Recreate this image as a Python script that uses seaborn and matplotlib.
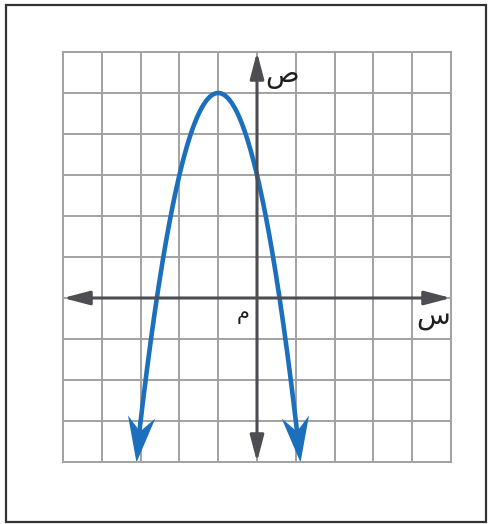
import numpy as np
import pandas as pd
import seaborn as sns
import matplotlib
matplotlib.use('Agg')
import matplotlib.pyplot as plt
from matplotlib.patches import Rectangle
from matplotlib.path import Path
from matplotlib.markers import MarkerStyle

# grid extent (units)
x_range = [-5, 5]
y_range = [-4, 6]

# parabola y = a*(x - h)^2 + k
a_coef = -2
vertex_x = -1
vertex_y = 5
curve_ends = [-3.12, 1.12]

# labels (Arabic)
y_label = "ص"
x_label = "س"
origin_label = "م"

blue = "#1b6fbd"
axis_gray = "#4d4d52"


def parabola(x):
    return a_coef * (x - vertex_x) ** 2 + vertex_y


sns.set_style("white")
plt.rcParams['font.family'] = ['DejaVu Sans']

fig = plt.figure(figsize=(4.88, 5.24), dpi=100)
ax = fig.add_axes([63 / 488, 62 / 524, 388 / 488, 410 / 524])

# grid
ax.set_xlim(x_range)
ax.set_ylim(y_range)
ax.set_xticks(np.arange(x_range[0], x_range[1] + 1))
ax.set_yticks(np.arange(y_range[0], y_range[1] + 1))
ax.grid(True, color="#a2a2a2", lw=1.4)
ax.tick_params(length=0, labelbottom=False, labelleft=False)
for s in ax.spines.values():
    s.set_color("#a2a2a2")
    s.set_linewidth(1.4)

# axes with arrows
for xy, xytext in [((x_range[1], 0), (x_range[0], 0)), ((0, y_range[1]), (0, y_range[0]))]:
    ax.annotate("", xy=xy, xytext=xytext,
                arrowprops=dict(arrowstyle="<|-|>,head_length=1.6,head_width=0.42",
                                mutation_scale=10, color=axis_gray, lw=2.2,
                                shrinkA=0, shrinkB=0))

# the parabola
xs = np.linspace(curve_ends[0], curve_ends[1], 300)
df = pd.DataFrame({"x": xs, "y": parabola(xs)})
sns.lineplot(data=df[(df.y > -3.5)], x="x", y="y", color=blue, lw=3.3,
             sort=False, ax=ax)

# notched arrowheads at the curve ends (tip at origin, pointing down)
head = Path([(0, 0), (0.3, 1.0), (0, 0.68), (-0.3, 1.0), (0, 0)],
            [Path.MOVETO, Path.LINETO, Path.LINETO, Path.LINETO, Path.CLOSEPOLY])
fig.canvas.draw()
for end in curve_ends:
    back = end + (0.05 if end < vertex_x else -0.05)
    p_tip = ax.transData.transform((end, parabola(end)))
    p_back = ax.transData.transform((back, parabola(back)))
    d = p_tip - p_back
    ang = np.degrees(np.arctan2(d[1], d[0])) + 90
    ax.plot([end], [parabola(end)], linestyle="none", color=blue,
            marker=MarkerStyle(head).rotated(deg=ang), markersize=66,
            markeredgewidth=0, clip_on=False)

ax.set_xlabel("")
ax.set_ylabel("")

# Arabic axis letters
ax.text(0.65, 5.45, y_label, fontsize=20, ha="center", va="center", color="#1e1e1e")
ax.text(4.55, -0.45, x_label, fontsize=20, ha="center", va="center", color="#1e1e1e")
ax.text(-0.35, -0.4, origin_label, fontsize=15, ha="center", va="center", color="#1e1e1e")

# outer frame
fig.add_artist(Rectangle((6 / 488, 2 / 524), 480 / 488, 517 / 524,
                         transform=fig.transFigure, fill=False,
                         edgecolor="#333333", lw=1.6))

plt.savefig("out.png", dpi=100)
plt.close()
